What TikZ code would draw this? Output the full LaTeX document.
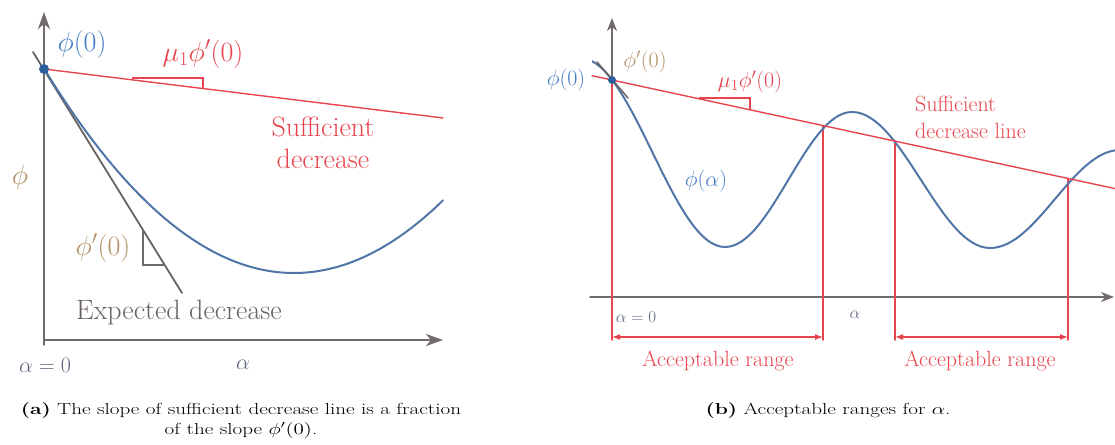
\documentclass[tikz,border=0pt]{standalone}
\usepackage{fix-cm}
\usepackage{graphicx}
\usetikzlibrary{arrows.meta}

\definecolor{curveblue}{RGB}{80,118,168}
\definecolor{dotblue}{RGB}{45,95,155}
\definecolor{suffred}{RGB}{232,68,78}
\definecolor{axisgray}{RGB}{112,106,106}
\definecolor{labelblue}{RGB}{70,125,195}
\definecolor{labeltan}{RGB}{180,145,105}
\definecolor{labelgray}{RGB}{105,98,95}
\definecolor{alphagray}{RGB}{95,105,130}

\tikzset{
  biglbl/.style={inner sep=0pt, font=\fontsize{28}{32}\selectfont},
  midlbl/.style={inner sep=0pt, font=\fontsize{22}{27}\selectfont},
  smalllbl/.style={inner sep=0pt, font=\fontsize{17}{20}\selectfont},
  caplbl/.style={inner sep=0pt, font=\fontsize{16}{20}\selectfont},
}

\begin{document}
\begin{tikzpicture}[x=1pt, y=-1pt, line cap=round,
    axisline/.style={axisgray, line width=1.8pt, -{Stealth[length=17pt,width=12pt,inset=5pt]}},
    axisthin/.style={axisgray, line width=1.4pt, -{Stealth[length=13pt,width=10pt,inset=4pt]}},
    tangentline/.style={labelgray, line width=1.8pt},
    suff/.style={suffred, line width=1.4pt},
    phicurve/.style={curveblue, line width=2pt},
    rangebar/.style={suffred, line width=1.2pt, {Latex[length=8pt,width=6pt]}-{Latex[length=8pt,width=6pt]}}]
  \useasboundingbox (0,0) rectangle (1115,444);

  % (a) axes
  \coordinate (aB) at (44,345);
  \coordinate (aO) at (44,340);
  \coordinate (aY) at (44,12);
  \coordinate (aX) at (443,340);
  \draw[axisline] (aB) -- (aY);
  \draw[axisline] (aO) -- (aX);

  % (a) expected decrease: tangent line and its slope mark
  \coordinate (aP) at (44,69);
  \coordinate (aTs) at (33,52);
  \coordinate (aTe) at (182,293);
  \draw[tangentline] (aTs) -- (aTe);
  \draw[axisgray, line width=1.2pt] (143,230) -- (143,265) -- (164.7,265);

  % (a) phi curve
  \draw[phicurve] plot[domain=44:443, samples=90] (\x, {273-(0.0572*(\x-294))^2});

  % (a) sufficient decrease line and its slope mark
  \coordinate (aS) at (443,118);
  \draw[suff] (aP) -- (aS);
  \draw[suffred, line width=1.1pt] (133,78.9) -- (133,78) -- (203,78) -- (203,87.5);
  \fill[dotblue] (aP) circle (5pt);

  % (a) labels
  \node[biglbl, text=labelblue] (aphi0) at (82,45) {$\phi(0)$};
  \node[biglbl, text=suffred] (amu) at (203,54) {$\mu_1\phi'(0)$};
  \node[biglbl, text=suffred, align=center] (asuff) at (323,143) {Sufficient\\decrease};
  \node[biglbl, text=labeltan] (aphi) at (20,177) {$\phi$};
  \node[biglbl, text=labeltan] (aslope) at (103,248) {$\phi'(0)$};
  \node[biglbl, text=labelgray] (aexp) at (179,313) {Expected decrease};
  \node[midlbl, text=alphagray] (azero) at (45,365) {$\alpha=0$};
  \node[midlbl, text=alphagray] (aalpha) at (243,365) {$\alpha$};

  % (b) axes
  \coordinate (bO) at (612,297);
  \coordinate (bL) at (590,297);
  \coordinate (bX) at (1114,297);
  \coordinate (bY) at (612,18);
  \draw[axisthin] (bL) -- (bX);
  \draw[axisthin] (bO) -- (bY);

  % (b) crossings of curve and sufficient decrease line
  \coordinate (bP) at (612,80);
  \coordinate (bA) at (823,125.6);
  \coordinate (bB) at (895,141.1);
  \coordinate (bC) at (1068,178.5);
  \coordinate (bBase) at (0,340);
  \coordinate (bBar) at (0,337);
  \foreach \p in {bP,bA,bB,bC}
    \draw[suff] (\p) -- (\p |- bBase);
  \draw[rangebar] (bP |- bBar) -- (bA |- bBar);
  \draw[rangebar] (bB |- bBar) -- (bC |- bBar);

  % (b) phi curve
  \begin{scope}
    \clip (592,0) rectangle (1115,444);
    \draw[phicurve] (580,58) cos (652.5,152.5) sin (725,247) cos (788.5,179.5)
      sin (852,112) cos (921,180) sin (990,248) cos (1055,199) sin (1120,150);
  \end{scope}

  % (b) sufficient decrease line, tangent and slope mark
  \coordinate (bS0) at (592,75.7);
  \coordinate (bS1) at (1115,188.6);
  \coordinate (bTs) at (597,62);
  \coordinate (bTe) at (628,98);
  \draw[suff] (bS0) -- (bS1);
  \draw[tangentline, line width=1.5pt] (bTs) -- (bTe);
  \draw[suffred, line width=1.1pt] (700,99) -- (700,98) -- (750,98) -- (750,109.8);
  \fill[dotblue] (bP) circle (4pt);

  % (b) labels
  \node[midlbl, text=labelblue] (bphi0) at (566,80) {$\phi(0)$};
  \node[midlbl, text=labeltan] (bslope) at (645,62) {$\phi'(0)$};
  \node[midlbl, text=suffred] (bmu) at (750,82) {$\mu_1\phi'(0)$};
  \node[midlbl, text=labelblue] (bphia) at (706,181) {$\phi(\alpha)$};
  \node[midlbl, text=suffred, align=left, anchor=west] (bsuff) at (915,117) {Sufficient\\decrease line};
  \node[smalllbl, text=alphagray] (bzero) at (636,317) {$\alpha=0$};
  \node[smalllbl, text=alphagray] (balpha) at (855,315) {$\alpha$};
  \node[midlbl, text=suffred] (brange1) at (718,361) {Acceptable range};
  \node[midlbl, text=suffred] (brange2) at (980,361) {Acceptable range};

  % captions
  \node[caplbl] (capa) at (241,420) {\scalebox{1.32}[1]{\begin{tabular}{@{}c@{}}\textbf{(a)} The slope of sufficient decrease line is a fraction\\of the slope $\phi'(0)$.\end{tabular}}};
  \node[caplbl] (capb) at (828,411) {\scalebox{1.32}[1]{\textbf{(b)} Acceptable ranges for $\alpha$.}};
\end{tikzpicture}
\end{document}
